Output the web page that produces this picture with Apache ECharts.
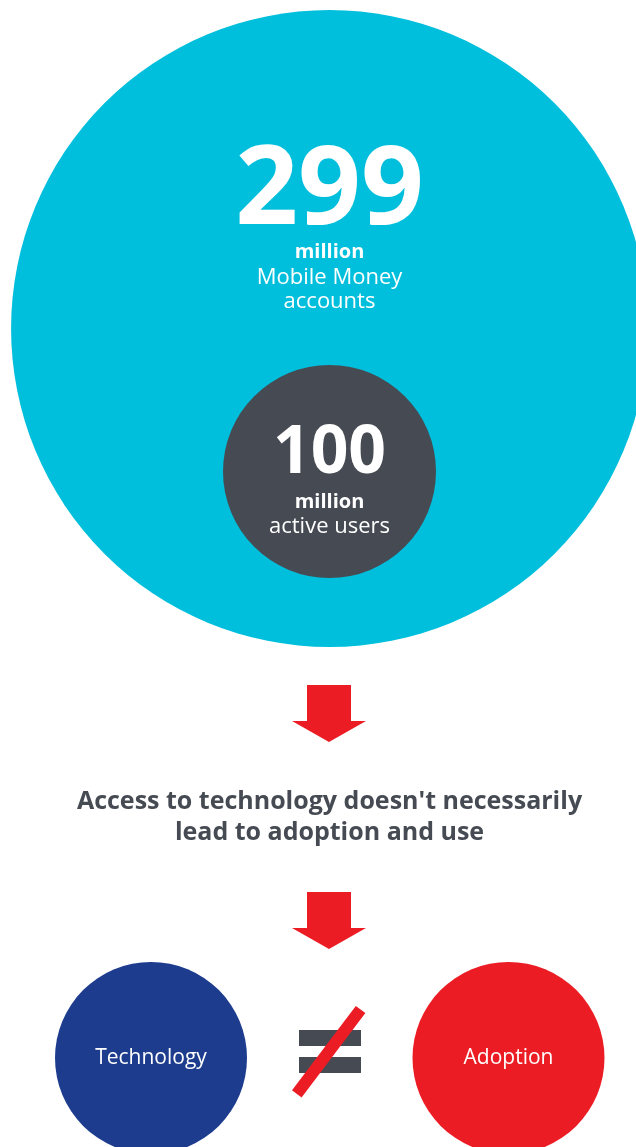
<!DOCTYPE html>
<html>
<head>
<meta charset="utf-8">
<script src="https://cdn.jsdelivr.net/npm/echarts@6/dist/echarts.min.js"></script>
<style>
  html, body { margin: 0; padding: 0; background: #ffffff; }
  #chart { width: 636px; height: 1147px; }
</style>
</head>
<body>
<div id="chart"></div>
<script>
// ---- data ----
const statValues = [299, 100];
const statUnits = ['million', 'million'];
const statLabels = [['Mobile Money', 'accounts'], ['active users']];
const headlineLines = ["Access to technology doesn't necessarily", 'lead to adoption and use'];
const compareLabels = ['Technology', 'Adoption'];

// ---- layout / style ----
const W = 636, H = 1147;
const FONT = '"Open Sans", "Noto Sans", sans-serif';
const CYAN = '#00bfdc', DARK = '#464b53', NAVY = '#1d3c8e', RED = '#ec1c24';
const statColors = [CYAN, DARK];
const statCenters = [[329.5, 328.5], [329.5, 471.5]];
const diamPerUnit = 2.13;
const compareColors = [NAVY, RED];
const compareCenters = [[151, 1058], [508.5, 1058]];
const compareDiam = 192;

const statData = statValues.map((v, i) => ({
  value: [statCenters[i][0], statCenters[i][1], v],
  itemStyle: { color: statColors[i], opacity: 1 }
}));
const compareData = compareLabels.map((name, i) => ({
  name: name,
  value: [compareCenters[i][0], compareCenters[i][1]],
  itemStyle: { color: compareColors[i], opacity: 1 }
}));

function txt(text, x, y, size, weight, color) {
  return {
    type: 'text', x: x, y: y, z: 100, silent: true,
    style: {
      text: text, fill: color, fontSize: size, fontWeight: weight,
      fontFamily: FONT, align: 'center', verticalAlign: 'middle'
    }
  };
}
function arrow(top) {
  return {
    type: 'polygon', z: 50, silent: true,
    shape: { points: [[307, top], [351, top], [351, top + 36], [366, top + 36],
                      [329, top + 57], [292, top + 36], [307, top + 36]] },
    style: { fill: RED }
  };
}

const graphics = [
  txt(String(statValues[0]), 329.5, 192.6, 110, 'bold', '#ffffff'),
  txt(statUnits[0], 329.5, 252.3, 20, 'bold', '#ffffff'),
  txt(statLabels[0][0], 329.5, 277.7, 22, 'normal', '#ffffff'),
  txt(statLabels[0][1], 329.5, 301.7, 22, 'normal', '#ffffff'),
  txt(String(statValues[1]), 329.5, 454.2, 66, 'bold', '#ffffff'),
  txt(statUnits[1], 329.5, 502.3, 20, 'bold', '#ffffff'),
  txt(statLabels[1][0], 329.5, 526.7, 22, 'normal', '#ffffff'),
  arrow(685),
  txt(headlineLines[0], 329.5, 801.5, 25, 'bold', DARK),
  txt(headlineLines[1], 329.5, 832.5, 25, 'bold', DARK),
  arrow(892),
  { type: 'rect', z: 50, silent: true, shape: { x: 299, y: 1030, width: 62, height: 16 }, style: { fill: DARK } },
  { type: 'rect', z: 50, silent: true, shape: { x: 299, y: 1057, width: 62, height: 16 }, style: { fill: DARK } },
  { type: 'line', z: 51, silent: true, shape: { x1: 360.6, y1: 1009.5, x2: 296.8, y2: 1093.8 },
    style: { stroke: RED, lineWidth: 12, lineCap: 'butt' } }
];

const chart = echarts.init(document.getElementById('chart'), null, { renderer: 'canvas' });
chart.setOption({
  animation: false,
  backgroundColor: '#ffffff',
  grid: { left: 0, right: 0, top: 0, bottom: 0, containLabel: false },
  xAxis: { type: 'value', min: 0, max: W, show: false },
  yAxis: { type: 'value', min: 0, max: H, inverse: true, show: false },
  series: [
    {
      type: 'scatter',
      clip: false,
      silent: true,
      data: statData,
      symbol: 'circle',
      symbolSize: (v) => v[2] * diamPerUnit,
      itemStyle: { opacity: 1 },
      emphasis: { disabled: true },
      z: 2
    },
    {
      type: 'scatter',
      clip: false,
      silent: true,
      data: compareData,
      symbol: 'circle',
      symbolSize: compareDiam,
      itemStyle: { opacity: 1 },
      emphasis: { disabled: true },
      label: {
        show: true, position: 'inside', formatter: '{b}',
        color: '#ffffff', fontSize: 21, fontFamily: FONT, fontWeight: 'normal'
      },
      z: 2
    }
  ],
  graphic: graphics
});
</script>
</body>
</html>
